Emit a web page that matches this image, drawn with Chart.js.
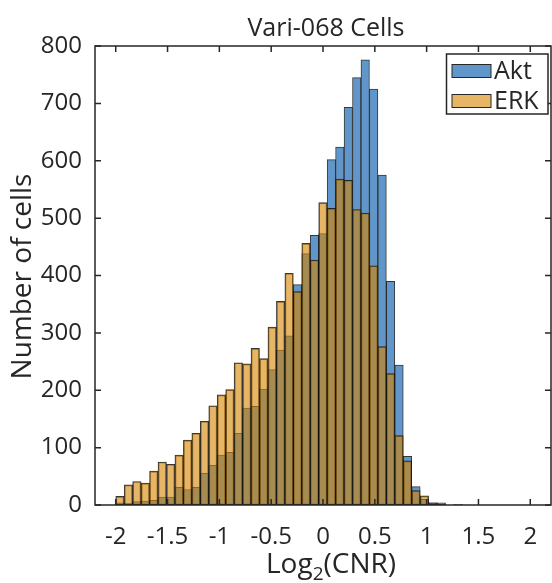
<!DOCTYPE html>
<html><head><meta charset="utf-8">
<script src="https://cdn.jsdelivr.net/npm/chart.js@4/dist/chart.umd.min.js"></script>
<style>html,body{margin:0;padding:0;background:#fff;} canvas{display:block;}</style>
</head><body>
<canvas id="c" width="552" height="583"></canvas>
<script>
// ---- data ----
const binStart = -2.0;
const binWidth = 0.0816;
const seriesNames = ['Akt', 'ERK'];
const aktCounts = [4, 3, 6, 7, 8, 14, 14, 31, 27, 31, 55, 69, 87, 92, 125, 169, 172, 202, 236, 270,
                   295, 384, 438, 470, 473, 602, 624, 693, 745, 776, 725, 575, 390, 244, 85, 32, 10, 4, 1, 0, 1];
const erkCounts = [15, 35, 41, 38, 59, 75, 71, 87, 113, 125, 146, 173, 192, 201, 248, 246, 273, 255, 310, 355,
                   404, 372, 456, 427, 527, 517, 568, 566, 515, 509, 417, 276, 229, 121, 77, 25, 16, 4, 4, 0, 0];
const xTickValues = [-2, -1.5, -1, -0.5, 0, 0.5, 1, 1.5, 2];
const xTickLabels = ['-2', '-1.5', '-1', '-0.5', '0', '0.5', '1', '1.5', '2'];
const yTickValues = [0, 100, 200, 300, 400, 500, 600, 700, 800];
const yTickLabels = ['0', '100', '200', '300', '400', '500', '600', '700', '800'];
const chartTitle = 'Vari-068 Cells';
const yAxisLabel = 'Number of cells';
const xAxisLabelParts = ['Log', '2', '(CNR)'];

const binCenters = aktCounts.map((_, i) => +(binStart + binWidth * (i + 0.5)).toFixed(4));
const toPoints = arr => arr.map((v, i) => ({ x: binCenters[i], y: v }));

const FONT = "'Open Sans', 'DejaVu Sans', sans-serif";
const INK = '#262626';

const decorPlugin = {
  id: 'decor',
  afterDatasetsDraw(chart) {
    const { ctx, chartArea: a, scales } = chart;
    ctx.save();
    ctx.strokeStyle = INK;
    ctx.lineWidth = 1.5;
    ctx.strokeRect(a.left, a.top, a.right - a.left, a.bottom - a.top);
    ctx.beginPath();
    const tl = 6;
    xTickValues.forEach(v => {
      const px = scales.x.getPixelForValue(v);
      ctx.moveTo(px, a.bottom); ctx.lineTo(px, a.bottom - tl);
      ctx.moveTo(px, a.top); ctx.lineTo(px, a.top + tl);
    });
    yTickValues.forEach(v => {
      const py = scales.y.getPixelForValue(v);
      ctx.moveTo(a.left, py); ctx.lineTo(a.left + tl, py);
      ctx.moveTo(a.right, py); ctx.lineTo(a.right - tl, py);
    });
    ctx.stroke();
    ctx.restore();
  },
  afterDraw(chart) {
    const { ctx, chartArea: a } = chart;
    ctx.save();
    ctx.fillStyle = INK;
    // title
    ctx.font = `25px ${FONT}`;
    ctx.textAlign = 'center';
    ctx.textBaseline = 'alphabetic';
    ctx.fillText(chartTitle, (a.left + a.right) / 2 + 3, 36);
    // y label
    ctx.save();
    ctx.translate(31, (a.top + a.bottom) / 2 + 1);
    ctx.rotate(-Math.PI / 2);
    ctx.font = `28px ${FONT}`;
    ctx.textAlign = 'center';
    ctx.fillText(yAxisLabel, 0, 0);
    ctx.restore();
    // x label with subscript
    const big = `28px ${FONT}`, small = `19px ${FONT}`;
    ctx.textAlign = 'left';
    ctx.font = big; const w0 = ctx.measureText(xAxisLabelParts[0]).width;
    const w2 = ctx.measureText(xAxisLabelParts[2]).width;
    ctx.font = small; const w1 = ctx.measureText(xAxisLabelParts[1]).width;
    const total = w0 + w1 + w2;
    const x0 = (a.left + a.right) / 2 + 8 - total / 2;
    const base = 573;
    ctx.font = big; ctx.fillText(xAxisLabelParts[0], x0, base);
    ctx.font = small; ctx.fillText(xAxisLabelParts[1], x0 + w0, base + 7);
    ctx.font = big; ctx.fillText(xAxisLabelParts[2], x0 + w0 + w1, base);
    // legend
    const ds = chart.data.datasets;
    const lx = 446.5, ly = 54, lw = 101.5, lh = 60;
    ctx.fillStyle = '#fff';
    ctx.fillRect(lx, ly, lw, lh);
    ctx.strokeStyle = INK; ctx.lineWidth = 1.5;
    ctx.strokeRect(lx, ly, lw, lh);
    ctx.font = `25px ${FONT}`;
    ctx.textBaseline = 'alphabetic';
    ds.forEach((d, i) => {
      const sy = 64.5 + i * 30;
      ctx.fillStyle = '#fff';
      ctx.fillRect(452, sy, 39, 13);
      ctx.fillStyle = d.backgroundColor;
      ctx.fillRect(452, sy, 39, 13);
      ctx.strokeStyle = INK; ctx.lineWidth = 1;
      ctx.strokeRect(452, sy, 39, 13);
      ctx.fillStyle = INK;
      ctx.fillText(d.label, 494, 79 + i * 30);
    });
    ctx.restore();
  }
};

new Chart(document.getElementById('c'), {
  type: 'bar',
  data: {
    datasets: [
      { label: seriesNames[0], data: toPoints(aktCounts), backgroundColor: 'rgb(97,150,202)',
        borderColor: 'rgba(20,20,20,0.85)', borderWidth: 1, borderSkipped: false, order: 2 },
      { label: seriesNames[1], data: toPoints(erkCounts), backgroundColor: 'rgba(213,133,0,0.6)',
        borderColor: 'rgba(20,20,20,0.85)', borderWidth: 1, borderSkipped: false, order: 1 }
    ]
  },
  options: {
    responsive: false,
    animation: false,
    devicePixelRatio: 1,
    layout: { padding: { top: 46, right: 1, left: 0, bottom: 0 } },
    datasets: { bar: { grouped: false, categoryPercentage: 1, barPercentage: 1 } },
    plugins: { legend: { display: false }, title: { display: false }, tooltip: { enabled: false } },
    scales: {
      x: {
        type: 'linear', min: -2.2, max: 2.2, offset: false,
        grid: { display: false, drawTicks: false },
        border: { display: false },
        afterBuildTicks: s => { s.ticks = xTickValues.map(v => ({ value: v })); },
        afterFit: s => { s.height = 78; s.paddingLeft = 0; s.paddingRight = 0; },
        ticks: {
          font: { family: FONT, size: 24 }, color: INK, padding: 18, maxRotation: 0, autoSkip: false,
          callback: (v) => xTickLabels[xTickValues.indexOf(v)]
        }
      },
      y: {
        min: 0, max: 800,
        grid: { display: false, drawTicks: false },
        border: { display: false },
        afterBuildTicks: s => { s.ticks = yTickValues.map(v => ({ value: v })); },
        afterFit: s => { s.width = 95; s.paddingTop = 0; s.paddingBottom = 0; },
        ticks: {
          font: { family: FONT, size: 24 }, color: INK, padding: 13,
          callback: (v) => yTickLabels[yTickValues.indexOf(v)]
        }
      }
    }
  },
  plugins: [decorPlugin]
});
</script>
</body></html>
